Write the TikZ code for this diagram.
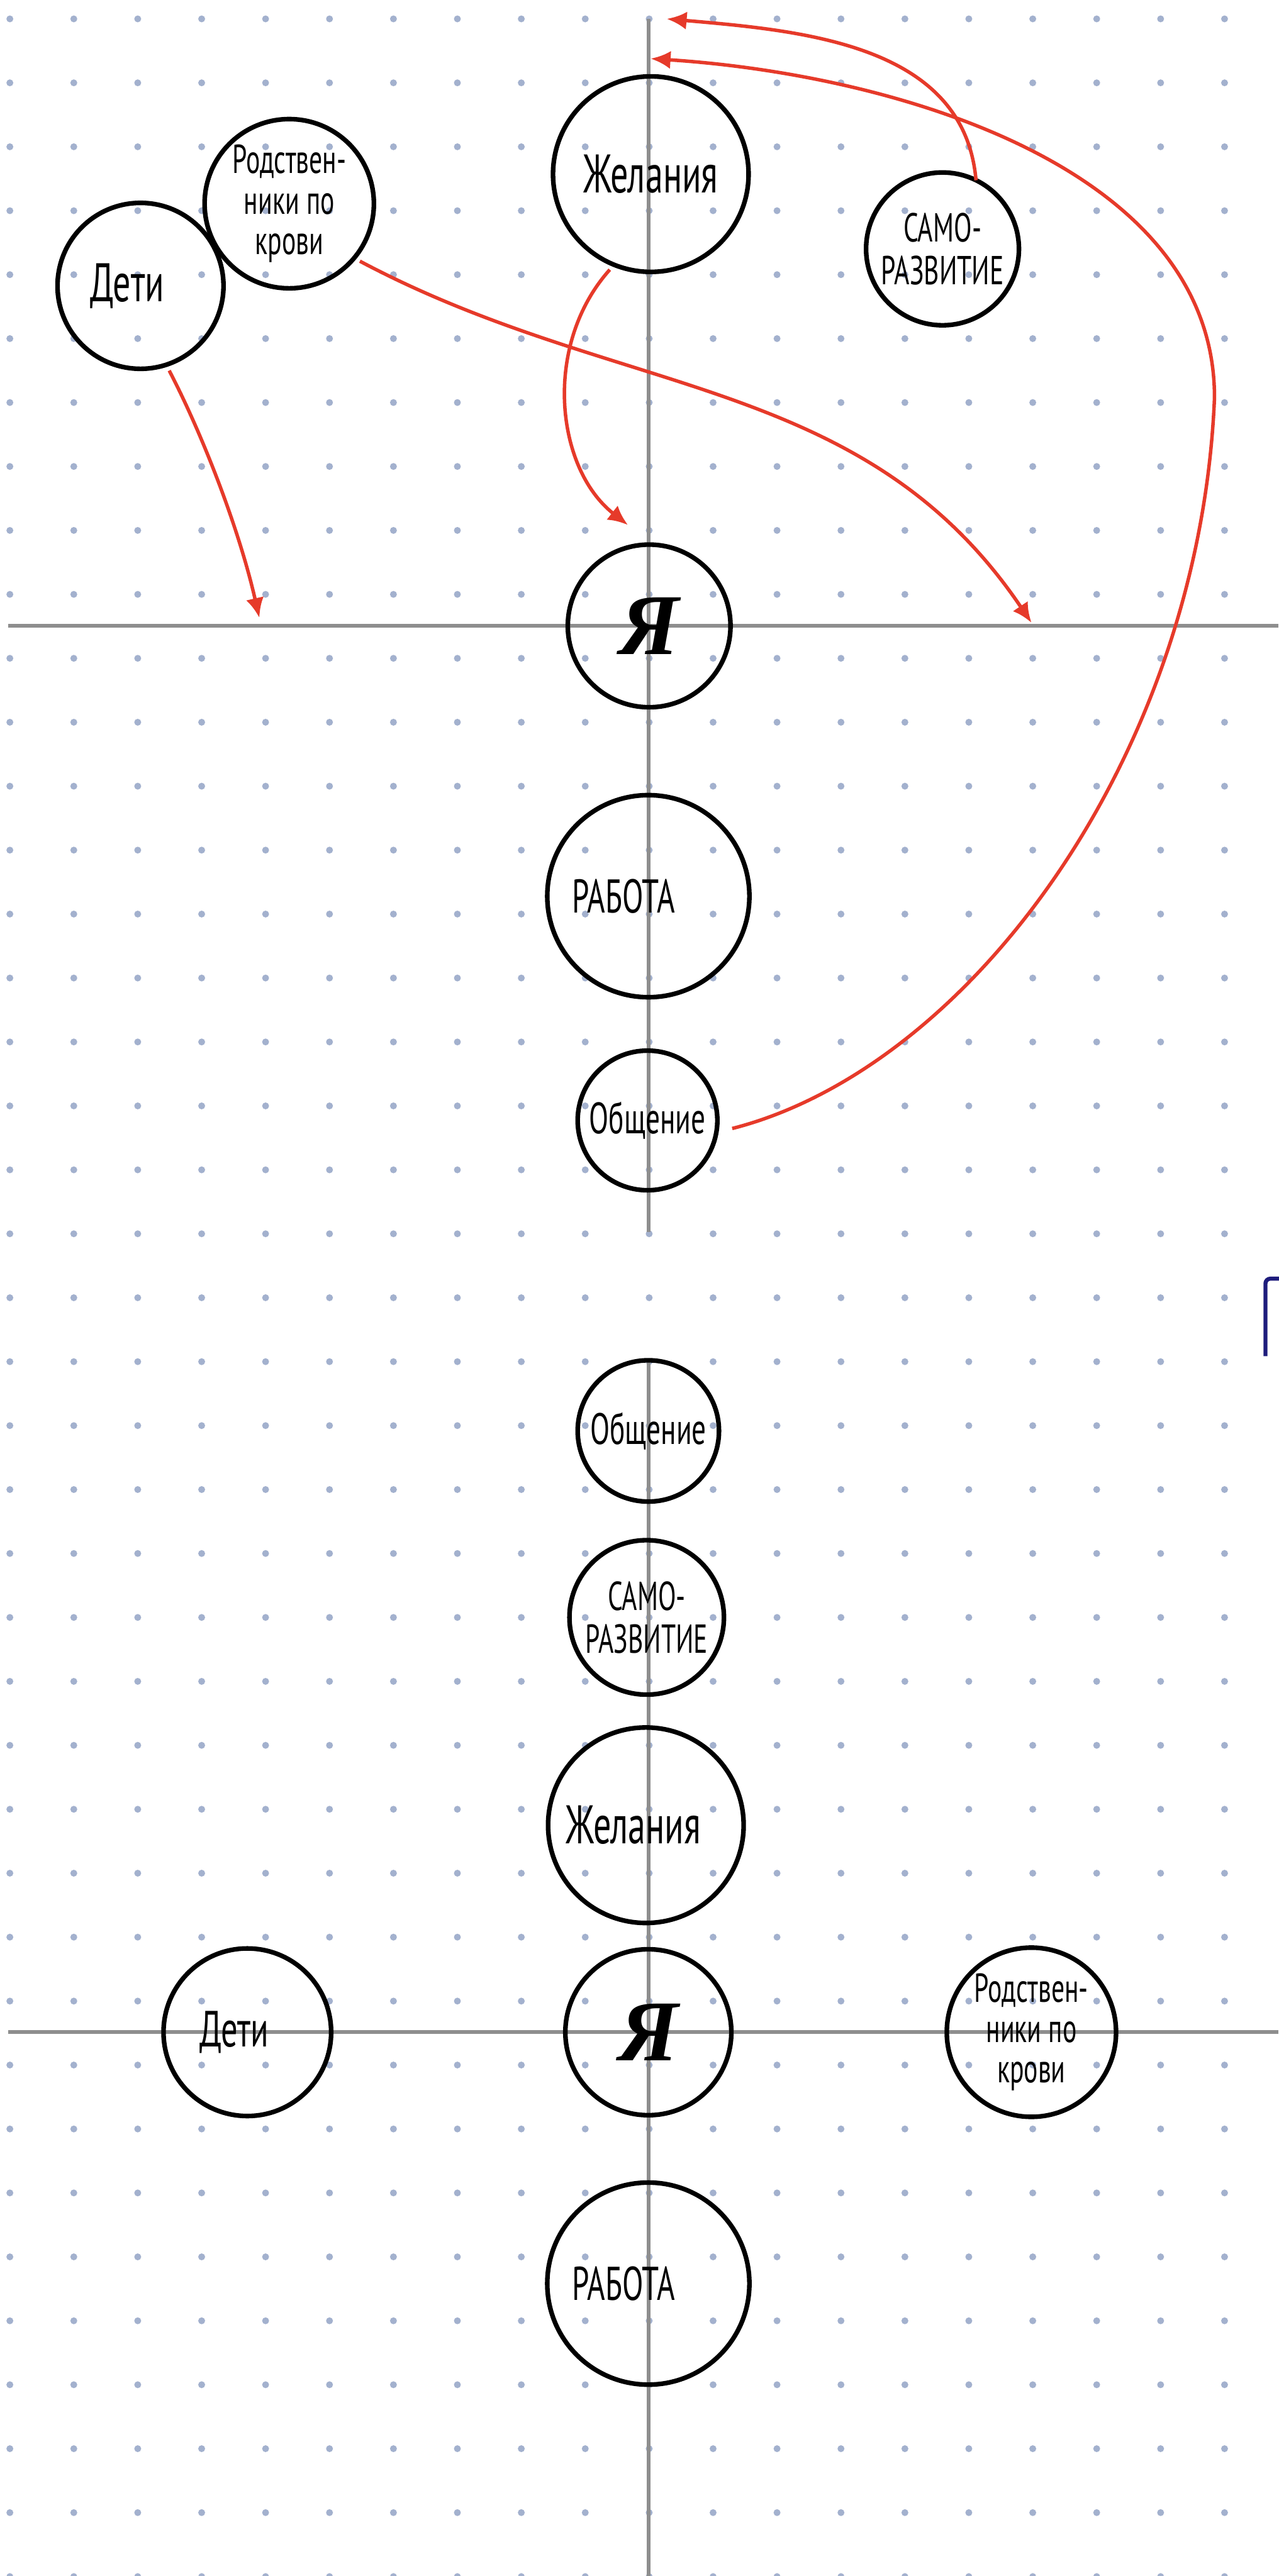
\documentclass[tikz,border=0pt]{standalone}
\usepackage{fontspec}
\usepackage{tikz}
\usetikzlibrary{arrows.meta,positioning,calc}
\newfontfamily\handfont[FakeStretch=0.65]{PT Sans}
\newfontfamily\yafont{Liberation Serif}
\definecolor{dotblue}{HTML}{A3B1CE}
\definecolor{axisgray}{HTML}{8E8E8E}
\definecolor{penred}{HTML}{E63A2A}
\definecolor{penblue}{HTML}{1E1C7C}
\tikzset{
  bubble/.style={draw, circle, line width=0.8pt, inner sep=0pt, outer sep=0pt, align=center},
  hand/.style 2 args={font=\handfont\fontsize{#1}{#2}\selectfont},
  me/.style={font=\yafont\bfseries\itshape\fontsize{15}{15}\selectfont},
  axis/.style={draw=axisgray, line width=0.65pt},
  arr/.style={-{Latex[length=1.2mm,width=1.1mm]}, color=penred, line width=0.6pt, shorten <=0.4mm},
  griddot/.style={fill=dotblue}
}

\begin{document}
\begin{tikzpicture}
\useasboundingbox (0,0) rectangle (7.78,-15.68);
\fill[white] (0,0) rectangle (7.78,-15.68);

% dotted paper
\foreach \i in {0,...,19}
  \foreach \j in {0,...,40}
    \fill[griddot] ({0.06+0.389*\i},{-0.115-0.3892*\j}) circle (0.021);

% axes
\draw[axis] (3.945,-0.115) -- (3.945,-7.50);
\draw[axis] (0.05,-3.81) -- (7.78,-3.81);
\draw[axis] (3.945,-8.275) -- (3.945,-15.68);
\draw[axis] (0.05,-12.37) -- (7.78,-12.37);

% first sketch
\node[bubble, minimum size=1.19cm, hand={9.4}{10}] (zel1) at (3.96,-1.06) {Желания};
\node[bubble, minimum size=1.03cm, hand={7}{7}] (rod1) at (1.76,-1.24) {Родствен-\\ники по\\крови};
\node[bubble, minimum size=1.01cm, hand={9.4}{10}] (deti1) at (0.855,-1.74) {Дети\hspace*{1.6mm}};
\node[bubble, minimum size=0.93cm, hand={7}{7.4}] (samo1) at (5.735,-1.515) {САМО-\\РАЗВИТИЕ};
\node[bubble, minimum size=0.99cm, me] (ya1) at (3.95,-3.81) {Я};
\node[bubble, minimum size=1.23cm, hand={8.2}{9}] (rab1) at (3.945,-5.455) {РАБОТА\hspace*{3mm}};
\node[bubble, minimum size=0.85cm, hand={7.6}{8}] (obs1) at (3.94,-6.82) {Общение};

\coordinate (tipA) at (1.578,-3.76);
\coordinate (tipB) at (6.276,-3.79);
\coordinate (tipC) at (3.82,-3.195);
\coordinate (tipD) at (4.058,-0.115);
\coordinate (tipE) at (3.96,-0.357);

\draw[arr] (deti1.-72) .. controls (1.22,-2.62) and (1.45,-3.2) .. (tipA);
\draw[arr] (rod1.-40) to[out=-28,in=124] (tipB);
\draw[arr] (zel1.-112) .. controls (3.30,-2.1) and (3.38,-2.85) .. (tipC);
\draw[arr, shorten <=0pt] (samo1.64) to[out=95,in=-5] (tipD);
\draw[arr, shorten <=1mm] (obs1.-10) .. controls (5.9,-6.5) and (7.3,-4.6) .. (7.39,-2.42)
  .. controls (7.39,-1.0) and (5.4,-0.45) .. (tipE);

% corner of a letter at the right edge
\draw[penblue, line width=0.7pt, rounded corners=0.3mm] (7.70,-8.255) -- (7.70,-7.783) -- (7.80,-7.783);

% second sketch
\node[bubble, minimum size=0.86cm, hand={7.6}{8}] (obs2) at (3.945,-8.71) {Общение};
\node[bubble, minimum size=0.94cm, hand={7}{7.4}] (samo2) at (3.935,-9.845) {САМО-\\РАЗВИТИЕ};
\node[bubble, minimum size=1.19cm, hand={9.4}{10}] (zel2) at (3.93,-11.11) {Желания\hspace*{1.5mm}};
\node[bubble, minimum size=1.01cm, me] (ya2) at (3.945,-12.37) {Я};
\node[bubble, minimum size=1.02cm, hand={8.8}{9}] (deti2) at (1.505,-12.37) {Дети\hspace*{1.6mm}};
\node[bubble, minimum size=1.03cm, hand={7}{7}] (rod2) at (6.276,-12.37) {Родствен-\\ники по\\крови};
\node[bubble, minimum size=1.23cm, hand={8.2}{9}] (rab2) at (3.945,-13.90) {РАБОТА\hspace*{3mm}};
\end{tikzpicture}
\end{document}
